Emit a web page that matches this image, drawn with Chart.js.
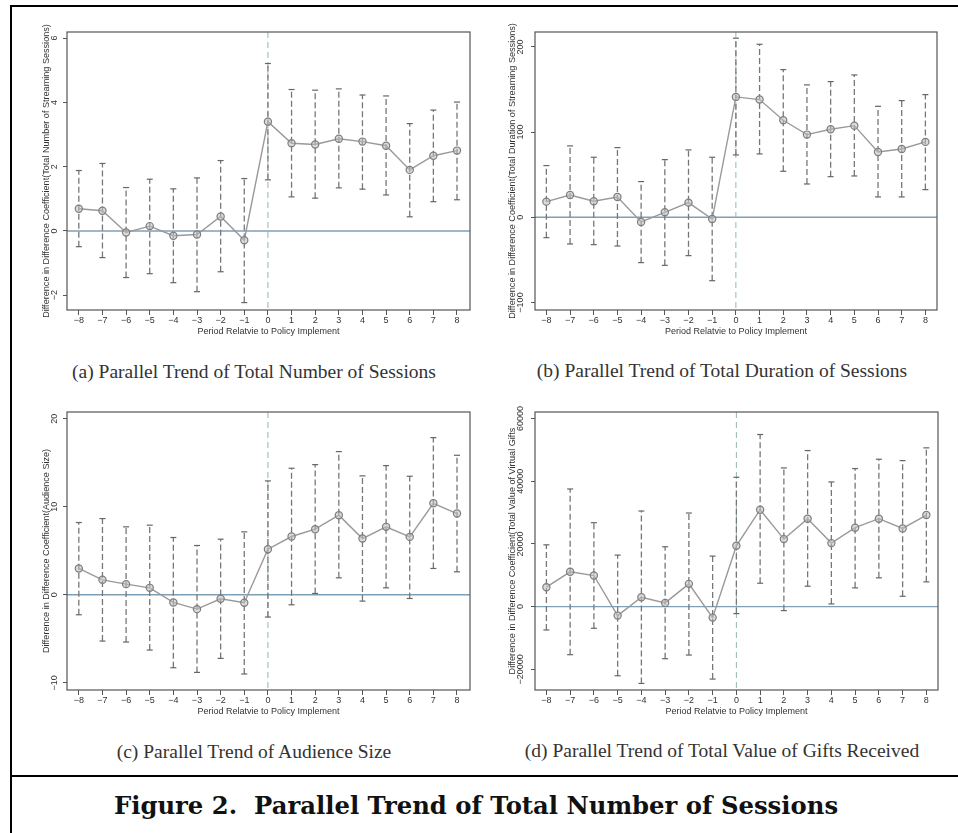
<!DOCTYPE html>
<html>
<head>
<meta charset="utf-8">
<script src="https://cdn.jsdelivr.net/npm/chart.js@4.4.1/dist/chart.umd.min.js"></script>
<style>
  body { margin: 0; background: #fff; width: 958px; height: 833px; position: relative; overflow: hidden; }
  canvas { position: absolute; }
  .rule { position: absolute; background: #000; }
  .sub { position: absolute; width: 460px; text-align: center; font-family: "Liberation Serif", serif; font-size: 19.5px; line-height: 24px; color: #333; }
  #fig { position: absolute; left: -3px; width: 958px; top: 790px; text-align: center; font-family: "DejaVu Serif", serif; font-weight: bold; font-size: 24.3px; line-height: 32px; color: #111; }
</style>
</head>
<body>
<div class="rule" style="left:10px;top:5px;width:948px;height:2px"></div>
<div class="rule" style="left:10px;top:5px;width:2px;height:828px"></div>
<div class="rule" style="left:10px;top:775px;width:948px;height:2px"></div>

<canvas id="chartA" width="460" height="330" style="left:20px;top:10px"></canvas>
<canvas id="chartB" width="460" height="330" style="left:488px;top:10px"></canvas>
<canvas id="chartC" width="460" height="330" style="left:20px;top:390px"></canvas>
<canvas id="chartD" width="460" height="330" style="left:488px;top:390px"></canvas>

<div class="sub" style="left:24px;top:360px">(a) Parallel Trend of Total Number of Sessions</div>
<div class="sub" style="left:492px;top:359px">(b) Parallel Trend of Total Duration of Sessions</div>
<div class="sub" style="left:24px;top:740px">(c) Parallel Trend of Audience Size</div>
<div class="sub" style="left:492px;top:739px">(d) Parallel Trend of Total Value of Gifts Received</div>
<div id="fig">Figure 2.&nbsp; Parallel Trend of Total Number of Sessions</div>

<script>
const periods = [-8, -7, -6, -5, -4, -3, -2, -1, 0, 1, 2, 3, 4, 5, 6, 7, 8];

// (a) number of sessions
const sessCoef = [0.69, 0.63, -0.05, 0.15, -0.15, -0.11, 0.45, -0.29, 3.40, 2.73, 2.69, 2.87, 2.78, 2.65, 1.90, 2.34, 2.50];
const sessLower = [-0.49, -0.83, -1.45, -1.33, -1.61, -1.89, -1.27, -2.23, 1.59, 1.06, 1.02, 1.34, 1.30, 1.12, 0.44, 0.91, 0.97];
const sessUpper = [1.88, 2.10, 1.35, 1.61, 1.31, 1.65, 2.19, 1.63, 5.21, 4.40, 4.38, 4.42, 4.23, 4.20, 3.34, 3.76, 4.01];
const sessTicks = [-2, 0, 2, 4, 6];

// (b) duration of sessions
const durCoef = [18.4, 26.2, 18.8, 23.9, -5.5, 5.9, 17.2, -2.0, 141.3, 138.2, 113.9, 97.1, 103.3, 107.6, 76.7, 80.2, 88.5];
const durLower = [-23.9, -31.3, -32.1, -33.7, -53.2, -56.4, -45.0, -74.4, 73.2, 74.4, 54.0, 39.1, 47.7, 48.5, 23.9, 23.9, 32.5];
const durUpper = [60.7, 83.8, 70.5, 81.8, 41.9, 67.7, 79.1, 70.5, 210.2, 203.1, 173.4, 155.4, 159.3, 167.1, 130.3, 137.0, 144.0];
const durTicks = [-100, 0, 100, 200];

// (c) audience size
const audCoef = [2.99, 1.70, 1.21, 0.79, -0.87, -1.63, -0.45, -0.91, 5.18, 6.62, 7.45, 9.04, 6.39, 7.72, 6.58, 10.40, 9.23];
const audLower = [-2.27, -5.26, -5.37, -6.28, -8.29, -8.82, -7.23, -9.00, -2.53, -1.14, 0.15, 1.93, -0.72, 0.79, -0.42, 2.99, 2.61];
const audUpper = [8.21, 8.66, 7.72, 7.91, 6.51, 5.60, 6.32, 7.15, 12.94, 14.38, 14.79, 16.27, 13.51, 14.68, 13.47, 17.86, 15.85];
const audTicks = [-10, 0, 10, 20];

// (d) value of gifts
const giftCoef = [6180, 11090, 9910, -2880, 2980, 1170, 7250, -3520, 19400, 30910, 21530, 28040, 20250, 25160, 28040, 24940, 29210];
const giftLower = [-7460, -15350, -6930, -22070, -24520, -16630, -15460, -23130, -2240, 7460, -1280, 6500, 850, 5970, 9170, 3300, 7890];
const giftUpper = [19700, 37520, 26760, 16420, 30490, 19080, 29850, 16100, 41250, 54900, 44240, 49780, 39760, 44030, 47010, 46580, 50640];
const giftTicks = [-20000, 0, 20000, 40000, 60000];

const xTitle = "Period Relatvie to Policy Implement";

function fmt(v) {
  return String(v).replace("-", "\u2212");
}

// zero line, policy line, plot frame and rotated y labels (Stata style)
const panelDecor = {
  id: "panelDecor",
  beforeDatasetsDraw(chart) {
    const { ctx, chartArea: a, scales: { x, y } } = chart;
    ctx.save();
    const y0 = y.getPixelForValue(0);
    ctx.strokeStyle = "#7f9fb6";
    ctx.lineWidth = 1.4;
    ctx.beginPath();
    ctx.moveTo(a.left, y0);
    ctx.lineTo(a.right, y0);
    ctx.stroke();
    const x0 = x.getPixelForValue(0);
    ctx.strokeStyle = "#93b8b3";
    ctx.lineWidth = 1;
    ctx.setLineDash([6, 4]);
    ctx.beginPath();
    ctx.moveTo(x0, a.top);
    ctx.lineTo(x0, a.bottom);
    ctx.stroke();
    ctx.restore();
  },
  afterDraw(chart, args, opts) {
    const { ctx, chartArea: a, scales: { y } } = chart;
    ctx.save();
    ctx.strokeStyle = "#555";
    ctx.lineWidth = 1.2;
    ctx.strokeRect(a.left, a.top, a.right - a.left, a.bottom - a.top);
    ctx.fillStyle = "#333";
    ctx.font = '9px "Liberation Sans"';
    ctx.textAlign = "center";
    ctx.textBaseline = "middle";
    opts.yTicks.forEach((v) => {
      ctx.save();
      ctx.translate(a.left - opts.labelOff, y.getPixelForValue(v));
      ctx.rotate(-Math.PI / 2);
      ctx.fillText(fmt(v), 0, 0);
      ctx.restore();
    });
    ctx.restore();
  },
};

function errorBars(lower, upper) {
  const pts = [];
  periods.forEach((p, i) => {
    pts.push({ x: p, y: lower[i] }, { x: p, y: upper[i] }, { x: p, y: null });
  });
  return pts;
}

function makePanel(id, coef, lower, upper, yTicks, yMin, yMax, xMin, xMax, yTitle, titleOff, labelOff, padRight) {
  const ctx = document.getElementById(id).getContext("2d");
  return new Chart(ctx, {
    type: "line",
    data: {
      datasets: [
        {
          data: periods.map((p, i) => ({ x: p, y: coef[i] })),
          borderColor: "#999",
          borderWidth: 1.4,
          pointRadius: 3.6,
          pointBorderColor: "#7e7e7e",
          pointBackgroundColor: "rgba(190,190,190,0.55)",
          pointBorderWidth: 1.2,
          tension: 0,
          order: 0,
        },
        {
          data: errorBars(lower, upper),
          borderColor: "#777",
          borderWidth: 1.3,
          borderDash: [6, 3],
          pointStyle: "line",
          pointRadius: 3,
          pointBorderColor: "#666",
          pointBorderWidth: 1.2,
          spanGaps: false,
          order: 1,
        },
      ],
    },
    options: {
      responsive: false,
      animation: false,
      events: [],
      layout: { padding: { left: 0, top: 22, right: padRight, bottom: 2 } },
      plugins: {
        legend: { display: false },
        tooltip: { enabled: false },
        panelDecor: { yTicks: yTicks, labelOff: labelOff },
      },
      scales: {
        x: {
          type: "linear",
          min: xMin,
          max: xMax,
          afterBuildTicks: (s) => {
            s.ticks = periods.map((v) => ({ value: v }));
          },
          afterFit: (s) => {
            s.height = 28;
          },
          ticks: {
            autoSkip: false,
            maxRotation: 0,
            padding: 0,
            color: "#333",
            font: { family: "Liberation Sans", size: 9 },
            callback: (v) => fmt(v),
          },
          grid: { drawOnChartArea: false, drawTicks: true, tickLength: 5, color: "#555" },
          border: { display: false },
          title: {
            display: true,
            text: xTitle,
            color: "#333",
            padding: { top: 0, bottom: 1.5 },
            font: { family: "Liberation Sans", size: 9 },
          },
        },
        y: {
          min: yMin,
          max: yMax,
          afterBuildTicks: (s) => {
            s.ticks = yTicks.map((v) => ({ value: v }));
          },
          afterFit: (s) => {
            s.width = 47;
          },
          ticks: { display: false },
          grid: { drawOnChartArea: false, drawTicks: true, tickLength: 4, color: "#555" },
          border: { display: false },
          title: {
            display: true,
            text: yTitle,
            color: "#333",
            padding: { top: titleOff - 5.4, bottom: 0 },
            font: { family: "Liberation Sans", size: 9.1 },
          },
        },
      },
    },
    plugins: [panelDecor],
  });
}

makePanel("chartA", sessCoef, sessLower, sessUpper, sessTicks, -2.46, 6.19, -8.5, 8.55,
  "Difference in Difference Coefficient(Total Number of Streaming Sessions)", 26.7, 12.7, 10);
makePanel("chartB", durCoef, durLower, durUpper, durTicks, -108.8, 217.5, -8.48, 8.49,
  "Difference in Difference Coefficient(Total Duration of Streaming Sessions)", 24.3, 14, 11);
makePanel("chartC", audCoef, audLower, audUpper, audTicks, -10.82, 20.77, -8.5, 8.55,
  "Difference in Difference Coefficient(Audience Size)", 26.7, 12.7, 10);
makePanel("chartD", giftCoef, giftLower, giftUpper, giftTicks, -26613, 62077, -8.48, 8.49,
  "Difference in Difference Coefficient(Total Value of Virtual Gifts", 24.3, 14, 10);
</script>
</body>
</html>
